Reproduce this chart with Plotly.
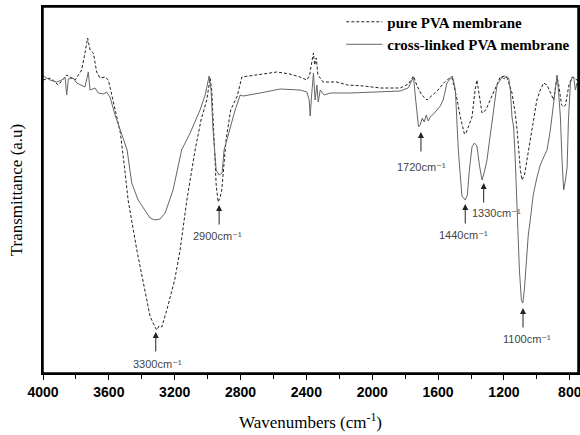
import plotly.graph_objects as go

# ---- data (transmittance in arbitrary units) ----
wn_pure = [4000, 3957, 3907, 3856, 3805, 3765, 3745, 3729, 3714, 3694, 3674, 3654, 3623, 3603,
           3593, 3562, 3530, 3505, 3483, 3430, 3380, 3350, 3320, 3309, 3295, 3278, 3248, 3200,
           3167, 3126, 3076, 3040, 3005, 2985, 2975, 2960, 2948, 2936, 2925, 2914, 2888, 2860,
           2820, 2792, 2700, 2579, 2500, 2440, 2397, 2380, 2365, 2357, 2350, 2340, 2330, 2298,
           2250, 2215, 2150, 2050, 1950, 1880, 1830, 1780, 1749, 1730, 1700, 1667, 1640, 1600,
           1560, 1530, 1515, 1500, 1484, 1465, 1440, 1430, 1410, 1394, 1375, 1364, 1350, 1333,
           1310, 1283, 1250, 1222, 1195, 1181, 1160, 1151, 1130, 1120, 1100, 1090, 1075, 1060,
           1040, 1019, 1000, 979, 959, 938, 918, 898, 885, 877, 867, 850, 837, 826, 805, 786,
           770, 756, 750]
t_pure = [293, 295, 288, 298, 293, 303, 320, 335, 323, 320, 301, 295, 296, 293,
          286, 263, 240, 206, 173, 123, 83, 57, 46, 43, 47, 46, 63, 93,
          123, 173, 223, 253, 273, 295, 283, 223, 188, 171, 175, 183, 233, 263,
          277, 296, 298, 301, 299, 296, 293, 298, 313, 320, 308, 315, 298, 291,
          291, 291, 288, 287, 285, 285, 285, 289, 297, 288, 278, 273, 277, 283,
          291, 295, 295, 285, 273, 256, 239, 240, 248, 256, 283, 293, 278, 260,
          263, 273, 285, 296, 297, 295, 285, 280, 258, 243, 203, 193, 198, 213,
          233, 256, 273, 283, 290, 288, 281, 273, 288, 296, 288, 268, 266, 268, 288, 296,
          295, 293, 292]

wn_cross = [3998, 3957, 3917, 3886, 3866, 3856, 3846, 3816, 3795, 3765, 3745, 3725, 3714, 3684,
            3664, 3633, 3613, 3593, 3562, 3489, 3461, 3422, 3380, 3350, 3319, 3289, 3258, 3210,
            3158, 3106, 3046, 3015, 2991, 2979, 2967, 2948, 2930, 2912, 2900, 2888, 2869, 2833,
            2802, 2784, 2681, 2559, 2438, 2397, 2383, 2377, 2368, 2357, 2347, 2336, 2328, 2316,
            2292, 2255, 2134, 1951, 1830, 1782, 1749, 1739, 1719, 1709, 1696, 1684, 1672, 1660,
            1647, 1617, 1587, 1569, 1546, 1532, 1515, 1507, 1495, 1477, 1455, 1435, 1422, 1410,
            1394, 1379, 1364, 1349, 1333, 1319, 1303, 1283, 1264, 1242, 1222, 1212, 1198, 1186,
            1171, 1161, 1151, 1141, 1131, 1118, 1106, 1094, 1085, 1076, 1064, 1052, 1040, 1022,
            999, 979, 961, 938, 918, 898, 887, 877, 869, 857, 847, 837, 826, 816, 808, 796,
            787, 776, 766, 756, 750]
t_cross = [297, 293, 291, 293, 296, 278, 294, 295, 290, 288, 286, 301, 283, 285,
           280, 279, 281, 276, 258, 223, 190, 173, 163, 155, 153, 154, 160, 183,
           223, 240, 263, 278, 297, 283, 243, 203, 198, 200, 223, 230, 243, 263,
           278, 277, 280, 284, 283, 281, 273, 257, 278, 300, 273, 288, 271, 283,
           278, 280, 280, 281, 282, 285, 296, 278, 246, 248, 255, 251, 258, 252,
           256, 261, 267, 273, 290, 293, 297, 293, 283, 223, 177, 173, 178, 203,
           226, 230, 227, 208, 193, 201, 213, 238, 263, 288, 293, 296, 294, 297,
           295, 283, 256, 246, 213, 153, 103, 73, 70, 83, 113, 138, 153, 178,
           196, 208, 215, 223, 243, 273, 288, 298, 283, 256, 213, 183, 193, 206, 253, 290,
           295, 296, 283, 290, 288]

# peak markers: arrow tip (wavenumber, height) and label position
peak_labels = ["3300cm⁻¹", "2900cm⁻¹", "1720cm⁻¹", "1440cm⁻¹", "1330cm⁻¹", "1100cm⁻¹"]
arrow_wn = [3315, 2930, 1704, 1435, 1323, 1084]
arrow_t = [41, 168, 241, 169, 190, 65]
label_wn = [3304, 2939, 1698, 1447, 1246, 1060]
label_t = [9, 137, 206, 138, 160, 34]

x_ticks = [4000, 3600, 3200, 2800, 2400, 2000, 1600, 1200, 800]

fig = go.Figure()
fig.add_trace(go.Scatter(x=wn_pure, y=t_pure, mode="lines", name="<b>pure PVA membrane</b>",
                         line=dict(color="#222222", width=1, dash="3px,2px")))
fig.add_trace(go.Scatter(x=wn_cross, y=t_cross, mode="lines", name="<b>cross-linked PVA membrane</b>",
                         line=dict(color="#666666", width=1)))

for i in range(len(peak_labels)):
    fig.add_annotation(x=arrow_wn[i], y=arrow_t[i], ax=0, ay=21, text="", showarrow=True,
                       arrowhead=2, arrowsize=1.2, arrowwidth=1, arrowcolor="#222222",
                       xref="x", yref="y")
    fig.add_annotation(x=label_wn[i], y=label_t[i], text=peak_labels[i], showarrow=False,
                       font=dict(family="Liberation Sans, DejaVu Sans, sans-serif", size=11,
                                 color="#444444"))

# plot frame (box around the plotting area)
fig.add_shape(type="rect", xref="paper", yref="paper", x0=0, x1=1, y0=0, y1=1,
              line=dict(color="black", width=1.5), fillcolor="rgba(0,0,0,0)", layer="above")

fig.update_layout(
    width=580, height=435,
    margin=dict(l=43, r=2, t=7, b=62, autoexpand=False),
    paper_bgcolor="white", plot_bgcolor="white",
    showlegend=True,
    legend=dict(x=0.995, y=1.004, xanchor="right", yanchor="top",
                bgcolor="rgba(0,0,0,0)", borderwidth=0,
                font=dict(family="Liberation Serif, serif", size=15, color="black"),
                tracegroupgap=0, itemwidth=36),
    font=dict(family="Liberation Serif, serif", color="black"),
)
fig.update_xaxes(range=[4000, 750], tickmode="array", tickvals=x_ticks,
                 ticktext=[f"<b>{v}</b>" for v in x_ticks],
                 ticklabeloverflow="allow",
                 ticks="outside", ticklen=5, tickwidth=1, tickcolor="black",
                 minor=dict(tickmode="linear", tick0=800, dtick=200, ticks="outside",
                            ticklen=4, tickcolor="black"),
                 showline=True, linecolor="black", linewidth=1.5, mirror=True,
                 showgrid=False, zeroline=False, automargin=False,
                 tickfont=dict(family="Liberation Sans, Arial, sans-serif", size=14, color="black"),
                 title=dict(text="Wavenumbers (cm<sup>-1</sup>)",
                            font=dict(family="Liberation Serif, serif", size=17, color="black"),
                            standoff=18))
fig.update_yaxes(range=[0, 366], showticklabels=False, ticks="",
                 showline=True, linecolor="black", linewidth=1.5, mirror=True,
                 showgrid=False, zeroline=False, automargin=False,
                 title=dict(text="Transmittance (a.u)",
                            font=dict(family="Liberation Serif, serif", size=17, color="black"),
                            standoff=14))

# remove the default 8px page margin so the 580x435 figure fills the window exactly
fig.write_html("out.html", config={"displayModeBar": False},
               post_script="document.body.style.margin='0px';")
